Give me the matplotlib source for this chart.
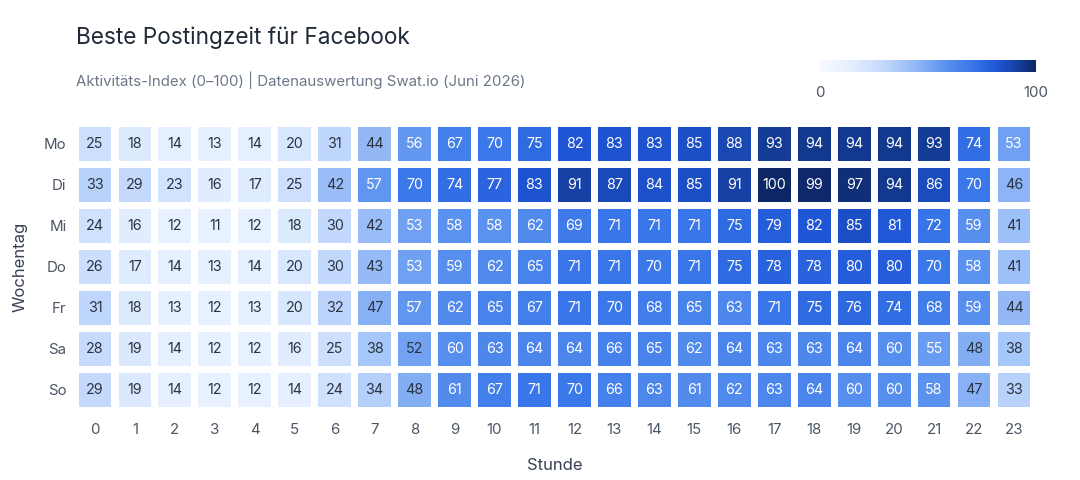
import numpy as np
import matplotlib
matplotlib.use("Agg")
import matplotlib.pyplot as plt
from matplotlib.colors import LinearSegmentedColormap, Normalize
from matplotlib.patches import Rectangle

plt.rcParams['font.family'] = ['Inter', 'DejaVu Sans']

# Data: activity index per weekday and hour
days = ['Mo', 'Di', 'Mi', 'Do', 'Fr', 'Sa', 'So']
hours = list(range(24))
mo = [25, 18, 14, 13, 14, 20, 31, 44, 56, 67, 70, 75, 82, 83, 83, 85, 88, 93, 94, 94, 94, 93, 74, 53]
di = [33, 29, 23, 16, 17, 25, 42, 57, 70, 74, 77, 83, 91, 87, 84, 85, 91, 100, 99, 97, 94, 86, 70, 46]
mi = [24, 16, 12, 11, 12, 18, 30, 42, 53, 58, 58, 62, 69, 71, 71, 71, 75, 79, 82, 85, 81, 72, 59, 41]
do = [26, 17, 14, 13, 14, 20, 30, 43, 53, 59, 62, 65, 71, 71, 70, 71, 75, 78, 78, 80, 80, 70, 58, 41]
fr = [31, 18, 13, 12, 13, 20, 32, 47, 57, 62, 65, 67, 71, 70, 68, 65, 63, 71, 75, 76, 74, 68, 59, 44]
sa = [28, 19, 14, 12, 12, 16, 25, 38, 52, 60, 63, 64, 64, 66, 65, 62, 64, 63, 63, 64, 60, 55, 48, 38]
so = [29, 19, 14, 12, 12, 14, 24, 34, 48, 61, 67, 71, 70, 66, 63, 61, 62, 63, 64, 60, 60, 58, 47, 33]

values = np.array([mo, di, mi, do, fr, sa, so])

cmap = LinearSegmentedColormap.from_list('blues_custom', [
    (0.0, '#f7faff'),
    (0.15, '#e3eeff'),
    (0.30, '#c2d8fc'),
    (0.45, '#90b6f6'),
    (0.58, '#5b92ef'),
    (0.72, '#3674e8'),
    (0.82, '#1f56d6'),
    (0.92, '#163f9e'),
    (1.0, '#0c2766'),
])
norm = Normalize(0, 100)

fig = plt.figure(figsize=(10.8, 4.8), dpi=100)
ax = fig.add_axes([0.0694, 0.1448, 0.888, 0.598])

cw, ch = 0.82, 0.84
for r in range(len(days)):
    for c in range(len(hours)):
        v = values[r, c]
        ax.add_patch(Rectangle((c - cw / 2, r - ch / 2), cw, ch,
                               facecolor=cmap(norm(v)), edgecolor='none'))
        tc = 'white' if v > 52 else '#2b3340'
        ax.text(c, r, str(v), ha='center', va='center', fontsize=10.3, color=tc)

ax.set_xlim(-0.5, len(hours) - 0.5)
ax.set_ylim(len(days) - 0.5, -0.5)
ax.set_xticks(hours)
ax.set_xticklabels([str(h) for h in hours])
ax.set_yticks(range(len(days)))
ax.set_yticklabels(days)
ax.tick_params(length=0, labelsize=10.8, colors='#4b5563', pad=6)
ax.tick_params(axis='x', pad=9)
for s in ax.spines.values():
    s.set_visible(False)
ax.set_xlabel('Stunde', fontsize=12, color='#374151', labelpad=15)
ax.set_ylabel('Wochentag', fontsize=12, color='#374151', labelpad=12)

# Title and subtitle
fig.text(0.0704, 0.922, 'Beste Postingzeit für Facebook', fontsize=16.3,
         color='#1f2937', ha='left', va='center')
fig.text(0.0704, 0.833, 'Aktivitäts-Index (0–100) | Datenauswertung Swat.io (Juni 2026)',
         fontsize=10.8, color='#6b7789', ha='left', va='center')

# Colorbar legend
cax = fig.add_axes([820 / 1080, 1 - 72 / 480, 216 / 1080, 12 / 480])
grad = np.linspace(0, 100, 256).reshape(1, -1)
cax.imshow(grad, aspect='auto', cmap=cmap, norm=norm, extent=[0, 100, 0, 1])
cax.set_xticks([0, 100])
cax.set_yticks([])
cax.tick_params(length=0, labelsize=10.8, colors='#4b5563', pad=10)
for s in cax.spines.values():
    s.set_visible(False)

fig.savefig('out.png', dpi=100, facecolor='white')
